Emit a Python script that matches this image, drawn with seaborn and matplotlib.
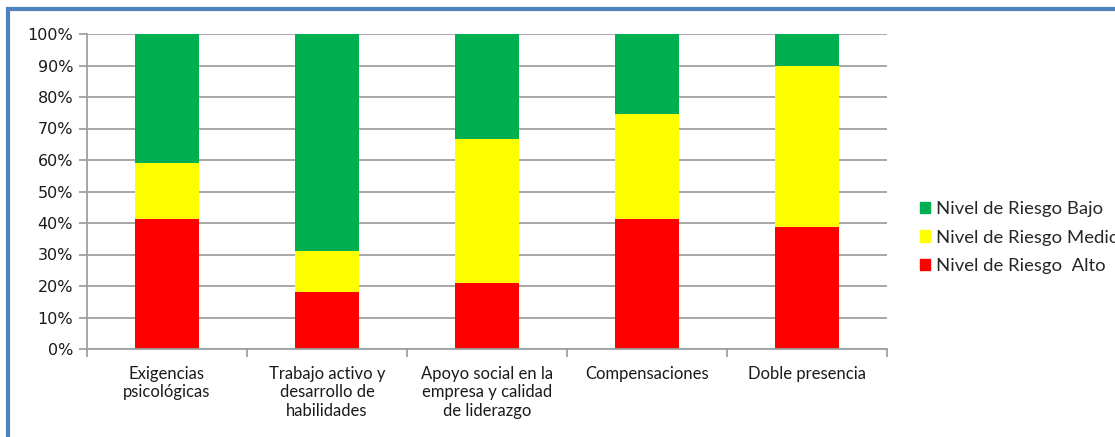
import matplotlib
matplotlib.use('Agg')
import matplotlib.pyplot as plt
import seaborn as sns
import pandas as pd
from matplotlib.patches import Rectangle
from matplotlib.ticker import FixedLocator, PercentFormatter

categorias = ['Exigencias\npsicológicas', 'Trabajo activo y\ndesarrollo de\nhabilidades',
              'Apoyo social en la\nempresa y calidad\nde liderazgo', 'Compensaciones', 'Doble presencia']
alto = [41.3, 18.1, 20.8, 41.3, 38.6]
medio = [17.8, 13.0, 45.9, 33.4, 51.2]
bajo = [40.9, 68.9, 33.3, 25.3, 10.2]
series = ['Nivel de Riesgo  Alto', 'Nivel de Riesgo Medio', 'Nivel de Riesgo Bajo']
colores = ['#ff0000', '#ffff00', '#00b050']

df = pd.DataFrame({'cat': categorias, 'alto': alto, 'medio': medio, 'bajo': bajo})

sns.set_style('white')
plt.rcParams['font.family'] = ['DejaVu Sans']

W, H = 1115, 437
fig = plt.figure(figsize=(W / 100, H / 100), dpi=100)
ax = fig.add_axes([87 / W, 1 - 349 / H, 800 / W, 315 / H])

base = [0] * len(categorias)
handles = []
for col, name, c in zip(['alto', 'medio', 'bajo'], series, colores):
    sns.barplot(data=df, x='cat', y=col, bottom=base, color=c, width=0.4,
                saturation=1, ax=ax, zorder=2, linewidth=0)
    handles.append(Rectangle((0, 0), 1, 1, color=c, label=name))
    base = [b + v for b, v in zip(base, df[col])]

ax.set_xlim(-0.5, len(categorias) - 0.5)
ax.set_ylim(0, 100)
ax.set_xlabel('')
ax.set_ylabel('')
ax.yaxis.set_major_locator(FixedLocator(range(0, 101, 10)))
ax.yaxis.set_major_formatter(PercentFormatter(decimals=0))
ax.grid(axis='y', color='#a0a0a0', linewidth=1.3, zorder=0)
ax.grid(axis='x', visible=False)
for s in ['top', 'right']:
    ax.spines[s].set_visible(False)
for s in ['left', 'bottom']:
    ax.spines[s].set_color('#a0a0a0')
    ax.spines[s].set_linewidth(1.3)

ax.tick_params(axis='y', length=6, width=1.3, color='#a0a0a0', left=True,
               labelsize=11.5, labelcolor='#1a1a1a', pad=4)
ax.set_xticks(range(len(categorias)))
ax.set_xticklabels(categorias, fontsize=12, family=['Lato', 'DejaVu Sans'],
                   color='#1a1a1a', linespacing=1.2, va='top')
ax.tick_params(axis='x', which='major', length=0, pad=12)
ax.set_xticks([i - 0.5 for i in range(len(categorias) + 1)], minor=True)
ax.tick_params(axis='x', which='minor', length=6, width=1.3, color='#a0a0a0', bottom=True)

leg = fig.legend(handles=handles[::-1], loc='upper left', bbox_to_anchor=(920 / W, 1 - 201 / H),
                 frameon=False, prop={'family': ['Lato', 'DejaVu Sans'], 'size': 13.3},
                 handlelength=0.55, handleheight=0.55, handletextpad=0.3, labelspacing=0.68,
                 borderaxespad=0, borderpad=0)

fig.patches.append(Rectangle((8 / W, -0.1), 1.2, 1 - 9 / H + 0.1, transform=fig.transFigure,
                             fill=False, edgecolor='#4f81bd', linewidth=3))

fig.savefig('out.png', dpi=100)
